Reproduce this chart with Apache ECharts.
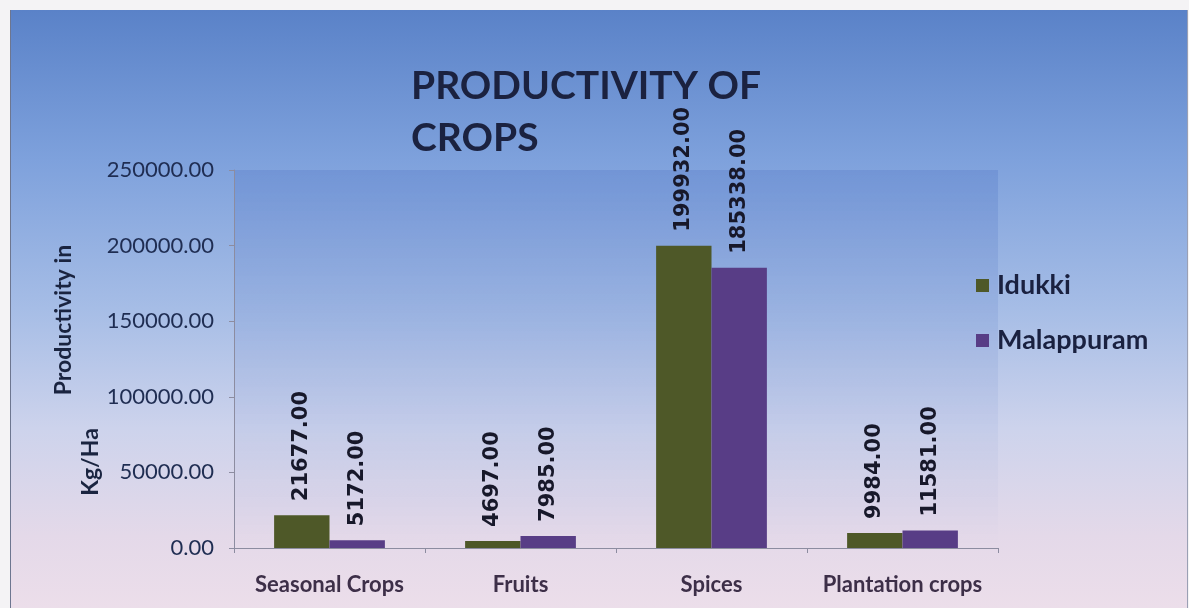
<!DOCTYPE html>
<html>
<head>
<meta charset="utf-8">
<script src="https://cdn.jsdelivr.net/npm/echarts@6/dist/echarts.min.js"></script>
<style>
  html, body { margin: 0; padding: 0; background: #f4f3f5; }
  #chart {
    position: absolute; left: 10px; top: 10px; width: 1176px; height: 598px;
    border-left: 1px solid #6d7690; border-right: 1px solid #9aa0b4;
    background: linear-gradient(to bottom, #5a82c8 0%, #7ea1dc 25%, #a6bde6 50%, #cdd3ec 70%, #e4d9e9 88%, #ecdeea 100%);
  }
</style>
</head>
<body>
<div id="chart"></div>
<script>
  var categories = ['Seasonal Crops', 'Fruits', 'Spices', 'Plantation crops'];
  var idukki = [21677, 4697, 199932, 9984];
  var malappuram = [5172, 7985, 185338, 11581];
  var yTicks = [0, 50000, 100000, 150000, 200000, 250000];

  var myChart = echarts.init(document.getElementById('chart'));

  var barLabel = {
    show: true,
    position: 'top',
    rotate: 90,
    align: 'left',
    verticalAlign: 'middle',
    distance: 14,
    fontFamily: 'DejaVu Sans',
    fontWeight: 'bold',
    fontSize: 21,
    color: '#17182a',
    formatter: function (p) { return p.value.toFixed(2); }
  };

  var option = {
    backgroundColor: 'transparent',
    animation: false,
    title: {
      text: 'PRODUCTIVITY OF\nCROPS',
      left: 400,
      top: 50,
      padding: 0,
      textStyle: {
        fontFamily: 'Lato',
        fontWeight: 'bold',
        fontSize: 39,
        lineHeight: 52,
        color: '#1b2240'
      }
    },
    legend: {
      orient: 'vertical',
      left: 965,
      top: 262,
      padding: 0,
      itemGap: 28,
      itemWidth: 13,
      itemHeight: 13,
      icon: 'rect',
      textStyle: {
        fontFamily: 'Lato',
        fontWeight: 'bold',
        fontSize: 27,
        color: '#1a2140',
        padding: [0, 0, 0, 3]
      },
      data: ['Idukki', 'Malappuram']
    },
    grid: {
      left: 223,
      top: 160,
      width: 764,
      height: 378,
      show: true,
      borderWidth: 0,
      backgroundColor: {
        type: 'linear', x: 0, y: 0, x2: 0, y2: 1,
        colorStops: [
          { offset: 0, color: 'rgba(40,80,180,0.16)' },
          { offset: 1, color: 'rgba(40,80,180,0)' }
        ]
      }
    },
    xAxis: {
      type: 'category',
      data: categories,
      axisLine: { lineStyle: { color: '#8c8ca0', width: 1 } },
      axisTick: { show: true, length: 5, lineStyle: { color: '#8c8ca0' } },
      axisLabel: {
        interval: 0,
        margin: 26,
        fontFamily: 'Lato',
        fontWeight: 'bold',
        fontSize: 22,
        color: '#3d2f48'
      }
    },
    yAxis: {
      type: 'value',
      min: yTicks[0],
      max: yTicks[yTicks.length - 1],
      interval: yTicks[1] - yTicks[0],
      splitLine: { show: false },
      axisLine: { show: true, lineStyle: { color: '#8c8ca0', width: 1 } },
      axisTick: { show: true, length: 5, lineStyle: { color: '#8c8ca0' } },
      axisLabel: {
        margin: 20,
        fontFamily: 'Lato',
        fontSize: 22,
        color: '#1f2d52',
        formatter: function (v) { return v.toFixed(2); }
      }
    },
    graphic: [
      {
        type: 'text',
        x: 53, y: 310,
        rotation: Math.PI / 2,
        style: {
          text: 'Productivity in',
          font: 'bold 23px Lato',
          fill: '#1a2440', textAlign: 'center', textVerticalAlign: 'middle'
        }
      },
      {
        type: 'text',
        x: 80, y: 452,
        rotation: Math.PI / 2,
        style: {
          text: 'Kg/Ha',
          font: 'bold 23px Lato',
          fill: '#1a2440', textAlign: 'center', textVerticalAlign: 'middle'
        }
      }
    ],
    series: [
      {
        name: 'Idukki',
        type: 'bar',
        data: idukki,
        barGap: '0%',
        barCategoryGap: '42%',
        itemStyle: { color: '#4e5828' },
        label: barLabel
      },
      {
        name: 'Malappuram',
        type: 'bar',
        data: malappuram,
        itemStyle: { color: '#583d86' },
        label: barLabel
      }
    ]
  };

  myChart.setOption(option);
</script>
</body>
</html>
